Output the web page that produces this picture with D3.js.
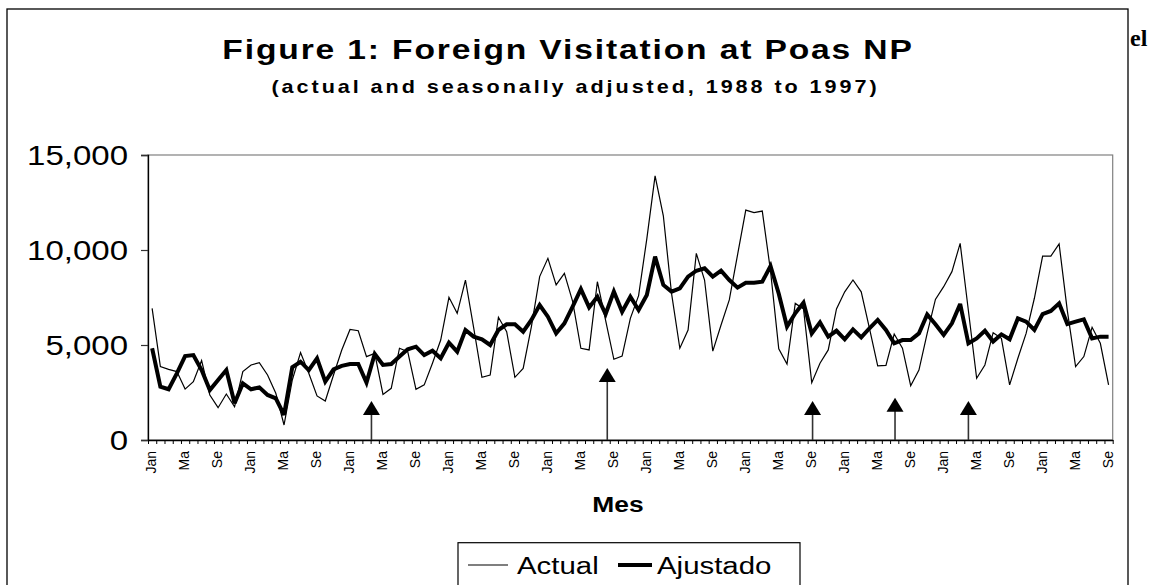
<!DOCTYPE html>
<html><head><meta charset="utf-8">
<script src="https://cdn.jsdelivr.net/npm/d3@7"></script>
<style>body{margin:0;background:#fff}svg{display:block}</style>
</head><body><svg id="c" width="1152" height="585"></svg>
<script>
// ---------- data ----------
const tickLabels = ["Jan", "Ma", "Se"];
const months = d3.timeMonth.range(new Date(1988, 0, 1), new Date(1997, 9, 1)); // Jan 1988 .. Sep 1997
const actual = [
 6930, 3860, 3720, 3600, 2680, 3070, 4180, 2370, 1700, 2420,
 1750, 3600, 3950, 4070, 3420, 2460,  790, 3160, 4600, 3510,
 2320, 2050, 3420, 4740, 5820, 5750, 4390, 4560, 2400, 2720,
 4830, 4650, 2670, 2900, 4040, 5260, 7510, 6670, 8420, 5900,
 3300, 3420, 6460, 5700, 3300, 3770, 5970, 8600, 9560, 8160,
 8770, 7300, 4830, 4740, 8330, 6300, 4250, 4420, 6400, 7600,
10600,13900,11800, 7700, 4830, 5790, 9820, 8420, 4680, 6050,
 7370, 9740,12100,11970,12050, 8900, 4800, 4000, 7190, 6900,
 3020, 4040, 4740, 6900, 7800, 8420, 7800, 5880, 3900, 3930,
 5580, 4830, 2860, 3680, 5610, 7400, 8070, 8860,10350, 6800,
 3250, 3950, 5650, 5350, 2900, 4300, 5610, 7460, 9680, 9680,
10320, 6800, 3860, 4390, 5930, 5090, 2900
];
const adjusted = [
 4830, 2810, 2670, 3510, 4420, 4470, 3680, 2630, 3160, 3680,
 1930, 2980, 2670, 2770, 2370, 2190, 1320, 3830, 4120, 3680,
 4300, 3070, 3720, 3900, 4000, 4000, 3020, 4530, 3950, 4000,
 4390, 4770, 4910, 4470, 4700, 4300, 5120, 4650, 5790, 5440,
 5300, 5000, 5790, 6090, 6090, 5700, 6320, 7100, 6490, 5610,
 6140, 7020, 7940, 6980, 7540, 6630, 7810, 6750, 7540, 6840,
 7630, 9650, 8160, 7810, 7980, 8600, 8910, 9040, 8600, 8910,
 8420, 8020, 8280, 8280, 8330, 9160, 7700, 5970, 6670, 7230,
 5610, 6190, 5440, 5750, 5300, 5820, 5400, 5880, 6320, 5790,
 5090, 5260, 5260, 5610, 6610, 6090, 5530, 6140, 7160, 5090,
 5350, 5750, 5180, 5560, 5300, 6400, 6230, 5790, 6630, 6790,
 7190, 6100, 6230, 6350, 5350, 5440, 5440
];
const yTicks = [0, 5000, 10000, 15000];
const arrowPos = [26.6, 55.2, 80.1, 90.1, 99.0];   // month index of annotation arrows
const arrowTip = [2050, 3790, 2050, 2230, 2050];   // value where arrow head tip sits
const seriesNames = ["Actual", "Ajustado"];
const titleText = "Figure 1: Foreign Visitation at Poas NP";
const subtitleText = "(actual and seasonally adjusted, 1988 to 1997)";
const xTitle = "Mes";

// ---------- layout ----------
const SX = 1.2; // horizontal text stretch seen in the picture
const P = {left: 148, right: 1112.7, top: 155, bottom: 440};
const svg = d3.select("#c");
const FONT = "'Liberation Sans', Arial, sans-serif";

function stext(g, x, y, str, size, weight, anchor, ls) {
  return g.append("text")
    .attr("transform", `translate(${x},${y}) scale(${SX},1)`)
    .attr("text-anchor", anchor || "middle")
    .style("font-family", FONT)
    .style("font-size", size + "px")
    .style("font-weight", weight || "normal")
    .style("letter-spacing", (ls || 0) + "px")
    .attr("fill", "#000")
    .text(str);
}

// chart frame
svg.append("rect").attr("x", 7).attr("y", 9).attr("width", 1121).attr("height", 620)
  .attr("fill", "#fff").attr("stroke", "#000").attr("stroke-width", 1.3);

// stray text from the page behind
svg.append("text").attr("x", 1130).attr("y", 46)
  .style("font-family", "'Liberation Serif', 'Times New Roman', serif")
  .style("font-weight", "bold").style("font-size", "24px").text("el");

// titles
stext(svg, 568, 59, titleText, 28, "bold", "middle", 1.55);
stext(svg, 575.5, 93, subtitleText, 18, "bold", "middle", 2.45);

// scales
const xb = d3.scaleBand().domain(d3.range(months.length)).range([P.left, P.right]);
const cx = i => xb(i) + xb.bandwidth() / 2;
const xl = d3.scaleLinear().domain([0, months.length]).range([P.left, P.right]);
const y = d3.scaleLinear().domain([0, 15000]).range([P.bottom, P.top]);

// plot area border
svg.append("rect").attr("x", P.left).attr("y", P.top)
  .attr("width", P.right - P.left).attr("height", P.bottom - P.top)
  .attr("fill", "none").attr("stroke", "#808080").attr("stroke-width", 1.2);

// y axis
const ya = svg.append("g").attr("transform", `translate(${P.left},0)`)
  .call(d3.axisLeft(y).tickValues(yTicks).tickSize(7).tickFormat(""));
ya.select(".domain").attr("stroke", "#000").attr("stroke-width", 1.3);
ya.selectAll(".tick line").attr("stroke", "#333").attr("stroke-width", 1.2);
yTicks.forEach(v => {
  stext(svg, 128, y(v) + 10, d3.format(",")(v), 27.5, "normal", "end", 0);
});

// x axis (tick marks at every month boundary)
const xa = svg.append("g").attr("transform", `translate(0,${P.bottom})`)
  .call(d3.axisBottom(xl).tickValues(d3.range(months.length + 1)).tickSize(4).tickSizeOuter(0).tickFormat(""));
xa.select(".domain").attr("stroke", "#000").attr("stroke-width", 1.3);
xa.selectAll(".tick line").attr("stroke", "#000").attr("stroke-width", 1);

// x tick labels every 4 months
months.forEach((m, i) => {
  if (i % 4 !== 0) return;
  svg.append("text")
    .attr("transform", `translate(${cx(i) - 1},451) rotate(-90)`)
    .attr("text-anchor", "end")
    .attr("dominant-baseline", "central")
    .style("font-family", FONT).style("font-size", "14px")
    .text(tickLabels[(i / 4) % 3]);
});

// x axis title
stext(svg, 618, 512, xTitle, 22, "bold", "middle", 0);

// lines
const line = arr => d3.line().x((d, i) => cx(i)).y(d => y(d))(arr);
svg.append("path").attr("d", line(actual)).attr("fill", "none")
  .attr("stroke", "#000").attr("stroke-width", 1.2);
svg.append("path").attr("d", line(adjusted)).attr("fill", "none")
  .attr("stroke", "#000").attr("stroke-width", 4).attr("stroke-linejoin", "miter").attr("stroke-miterlimit", 3);

// annotation arrows
arrowPos.forEach((p, k) => {
  const ax = xl(p + 0.5), ty = y(arrowTip[k]);
  svg.append("line").attr("x1", ax).attr("x2", ax).attr("y1", ty + 12).attr("y2", P.bottom)
    .attr("stroke", "#333").attr("stroke-width", 1.6);
  svg.append("path")
    .attr("d", `M${ax},${ty} L${ax - 8.5},${ty + 14} L${ax + 8.5},${ty + 14} Z`)
    .attr("fill", "#000");
});

// legend
const lg = svg.append("g");
lg.append("rect").attr("x", 458).attr("y", 542.7).attr("width", 342).attr("height", 70)
  .attr("fill", "#fff").attr("stroke", "#000").attr("stroke-width", 1.2);
lg.append("line").attr("x1", 468).attr("x2", 508).attr("y1", 565).attr("y2", 565)
  .attr("stroke", "#000").attr("stroke-width", 1.2);
stext(lg, 517, 574, seriesNames[0], 24.5, "normal", "start", 0);
lg.append("line").attr("x1", 618).attr("x2", 652).attr("y1", 565).attr("y2", 565)
  .attr("stroke", "#000").attr("stroke-width", 4);
stext(lg, 657, 574, seriesNames[1], 24.5, "normal", "start", 0);
</script></body></html>
